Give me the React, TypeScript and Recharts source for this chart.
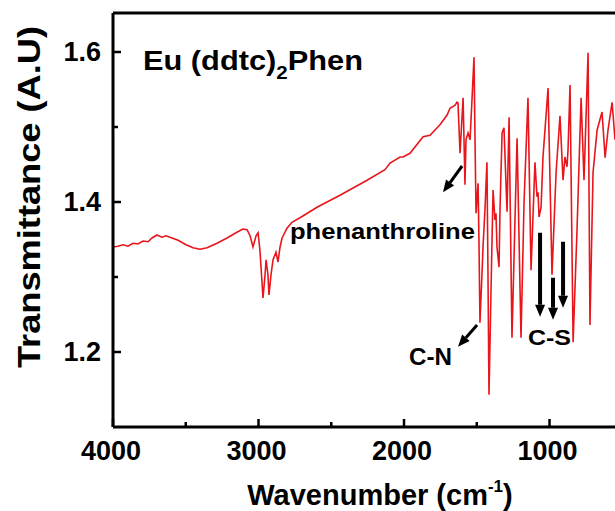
import React from 'react';
import { LineChart, Line, XAxis, YAxis, ReferenceLine, ReferenceDot } from 'recharts';

// IR spectrum (wavenumber in cm-1, left to right)
const WAVENUMBER = [
  4000, 3966, 3931, 3897, 3863, 3828, 3794, 3759, 3732, 3698, 3663, 3636, 3608, 3553, 3498, 3450,
  3402, 3354, 3285, 3216, 3155, 3107, 3079, 3058, 3038, 3017, 3003, 2990, 2969, 2955, 2948, 2935,
  2928, 2914, 2900, 2880, 2866, 2852, 2838, 2804, 2770, 2715, 2598, 2440, 2254, 2131, 2096, 2027,
  2007, 1959, 1869, 1821, 1753, 1704, 1684, 1649, 1636, 1629, 1615, 1594, 1581, 1574, 1560, 1546,
  1519, 1512, 1505, 1491, 1485, 1478, 1464, 1457, 1443, 1430, 1423, 1416, 1402, 1388, 1375, 1368,
  1361, 1347, 1340, 1326, 1313, 1292, 1278, 1258, 1223, 1196, 1175, 1148, 1127, 1100, 1086, 1079,
  1072, 1058, 1045, 1010, 983, 955, 928, 907, 894, 880, 873, 859, 838, 811, 783, 763,
  735, 722, 701, 673, 639, 618, 598, 570, 550,
];
const TRANSMITTANCE = [
  1.340, 1.341, 1.343, 1.341, 1.345, 1.344, 1.348, 1.347, 1.352, 1.356, 1.353, 1.355, 1.353, 1.349, 1.343, 1.339,
  1.337, 1.339, 1.345, 1.352, 1.359, 1.364, 1.363, 1.355, 1.340, 1.355, 1.359, 1.335, 1.272, 1.303, 1.323, 1.303,
  1.276, 1.303, 1.323, 1.333, 1.320, 1.340, 1.352, 1.365, 1.373, 1.379, 1.393, 1.409, 1.429, 1.443, 1.452, 1.460,
  1.460, 1.465, 1.487, 1.489, 1.503, 1.516, 1.525, 1.529, 1.533, 1.532, 1.465, 1.539, 1.423, 1.483, 1.492, 1.483,
  1.593, 1.483, 1.385, 1.425, 1.349, 1.239, 1.305, 1.340, 1.393, 1.453, 1.305, 1.143, 1.283, 1.416, 1.376, 1.385,
  1.340, 1.313, 1.393, 1.492, 1.499, 1.387, 1.513, 1.219, 1.485, 1.219, 1.400, 1.539, 1.309, 1.453, 1.407, 1.413,
  1.380, 1.393, 1.460, 1.552, 1.303, 1.439, 1.515, 1.429, 1.460, 1.447, 1.469, 1.556, 1.213, 1.363, 1.539, 1.429,
  1.599, 1.236, 1.439, 1.496, 1.520, 1.459, 1.496, 1.533, 1.483,
];

const X_MAJOR = [4000, 3000, 2000, 1000];
const X_MINOR = [3500, 2500, 1500];
const Y_MAJOR = [1.2, 1.4, 1.6];
const Y_MINOR = [1.3, 1.5];

// annotation arrows: [from, to] in data units, head at "to"
const ARROW_PHEN = [[1601, 1.448], [1732, 1.413]];
const ARROW_CN = [[1498, 1.236], [1629, 1.207]];
const ARROWS_CS = [
  [[1065, 1.359], [1065, 1.247]],
  [[976, 1.299], [976, 1.243]],
  [[907, 1.347], [907, 1.259]],
];

const FONT = '"Liberation Sans", Arial, Helvetica, sans-serif';

const data = WAVENUMBER.map((w, i) => ({ w, t: TRANSMITTANCE[i] }));

const XTick = (props: any) => {
  const { x, y, payload } = props;
  const major = X_MAJOR.includes(payload.value);
  return (
    <g>
      <line x1={x} x2={x} y1={y} y2={y - (major ? 8 : 5)} stroke="#000" strokeWidth={2.5} />
      {major && (
        <text x={x - 2} y={y + 33} textAnchor="middle" fontFamily={FONT} fontWeight="bold" fontSize={27} fill="#000">
          {payload.value}
        </text>
      )}
    </g>
  );
};

const YTick = (props: any) => {
  const { x, y, payload } = props;
  const major = Y_MAJOR.some((v) => Math.abs(v - payload.value) < 1e-6);
  return (
    <g>
      <line x1={x} x2={x + (major ? 8 : 5)} y1={y} y2={y} stroke="#000" strokeWidth={2.5} />
      {major && (
        <text x={x - 12} y={y + 9} textAnchor="end" fontFamily={FONT} fontWeight="bold" fontSize={27} fill="#000">
          {payload.value.toFixed(1)}
        </text>
      )}
    </g>
  );
};

const arrowShape = (w: number) => (props: any) => {
  const { x1, y1, x2, y2 } = props;
  const dx = x2 - x1;
  const dy = y2 - y1;
  const len = Math.hypot(dx, dy) || 1;
  const ux = dx / len;
  const uy = dy / len;
  const head = 12;
  const half = 5;
  const bx = x2 - ux * head;
  const by = y2 - uy * head;
  return (
    <g>
      <line x1={x1} y1={y1} x2={bx} y2={by} stroke="#000" strokeWidth={w} />
      <polygon
        points={`${x2},${y2} ${bx - uy * half},${by + ux * half} ${bx + uy * half},${by - ux * half}`}
        fill="#000"
      />
    </g>
  );
};

const textShape = (label: string, size: number, width: number) => (props: any) => (
  <text
    x={props.cx}
    y={props.cy}
    fontFamily={FONT}
    fontWeight="bold"
    fontSize={size}
    fill="#000"
    textLength={width}
    lengthAdjust="spacingAndGlyphs"
  >
    {label}
  </text>
);

const titleShape = (props: any) => (
  <text
    x={props.cx}
    y={props.cy}
    fontFamily={FONT}
    fontWeight="bold"
    fontSize={27}
    fill="#000"
    textLength={220}
    lengthAdjust="spacingAndGlyphs"
  >
    Eu (ddtc)
    <tspan fontSize={18} dy={9}>2</tspan>
    <tspan dy={-9}>Phen</tspan>
  </text>
);

const XTitle = (props: any) => {
  const { x, y, width } = props.viewBox;
  return (
    <text x={x + width / 2 + 16} y={y + 78} textAnchor="middle" fontFamily={FONT} fontWeight="bold" fontSize={29} fill="#000">
      Wavenumber (cm
      <tspan fontSize={17} dy={-13}>-1</tspan>
      <tspan dy={13}>)</tspan>
    </text>
  );
};

const YTitle = (props: any) => {
  const { y, height } = props.viewBox;
  const cx = 40;
  const cy = y + height / 2 - 23;
  return (
    <text
      x={cx}
      y={cy}
      transform={`rotate(-90, ${cx}, ${cy})`}
      textAnchor="middle"
      fontFamily={FONT}
      fontWeight="bold"
      fontSize={32}
      fill="#000"
      textLength={342}
      lengthAdjust="spacingAndGlyphs"
    >
      Transmittance (A.U)
    </text>
  );
};

const seg = (s: number[][]) => [
  { x: s[0][0], y: s[0][1] },
  { x: s[1][0], y: s[1][1] },
];

export default function App() {
  return (
    <div style={{ position: 'absolute', left: 0, top: 0, width: 615, height: 511, background: '#fff' }}>
      <LineChart width={615} height={511} data={data} margin={{ top: 13, right: 0, bottom: 0, left: 0 }}>
        <XAxis
          dataKey="w"
          type="number"
          domain={[550, 4000]}
          reversed
          allowDataOverflow
          ticks={[...X_MAJOR, ...X_MINOR].sort((a, b) => b - a)}
          interval={0}
          height={84}
          tickSize={0}
          tickMargin={0}
          tickLine={false}
          tick={<XTick />}
          axisLine={{ stroke: '#000', strokeWidth: 3 }}
          label={{ content: XTitle }}
        />
        <YAxis
          type="number"
          domain={[1.1, 1.652]}
          allowDataOverflow
          ticks={[...Y_MAJOR, ...Y_MINOR].sort((a, b) => a - b)}
          interval={0}
          width={113}
          tickSize={0}
          tickMargin={0}
          tickLine={false}
          tick={<YTick />}
          axisLine={{ stroke: '#000', strokeWidth: 3 }}
          label={{ content: YTitle }}
        />
        <ReferenceLine y={1.652} stroke="#000" strokeWidth={3} />
        <Line
          dataKey="t"
          type="linear"
          stroke="#e8161c"
          strokeWidth={1.6}
          dot={false}
          isAnimationActive={false}
        />
        <ReferenceDot x={3794} y={1.576} r={1} shape={titleShape} />
        <ReferenceDot x={2784} y={1.351} r={1} shape={textShape('phenanthroline', 22, 185)} />
        <ReferenceDot x={1966} y={1.183} r={1} shape={textShape('C-N', 23, 43)} />
        <ReferenceDot x={1148} y={1.209} r={1} shape={textShape('C-S', 22, 43)} />
        <ReferenceLine segment={seg(ARROW_PHEN)} shape={arrowShape(3)} />
        <ReferenceLine segment={seg(ARROW_CN)} shape={arrowShape(3)} />
        {ARROWS_CS.map((s, i) => (
          <ReferenceLine key={i} segment={seg(s)} shape={arrowShape(4)} />
        ))}
      </LineChart>
    </div>
  );
}
